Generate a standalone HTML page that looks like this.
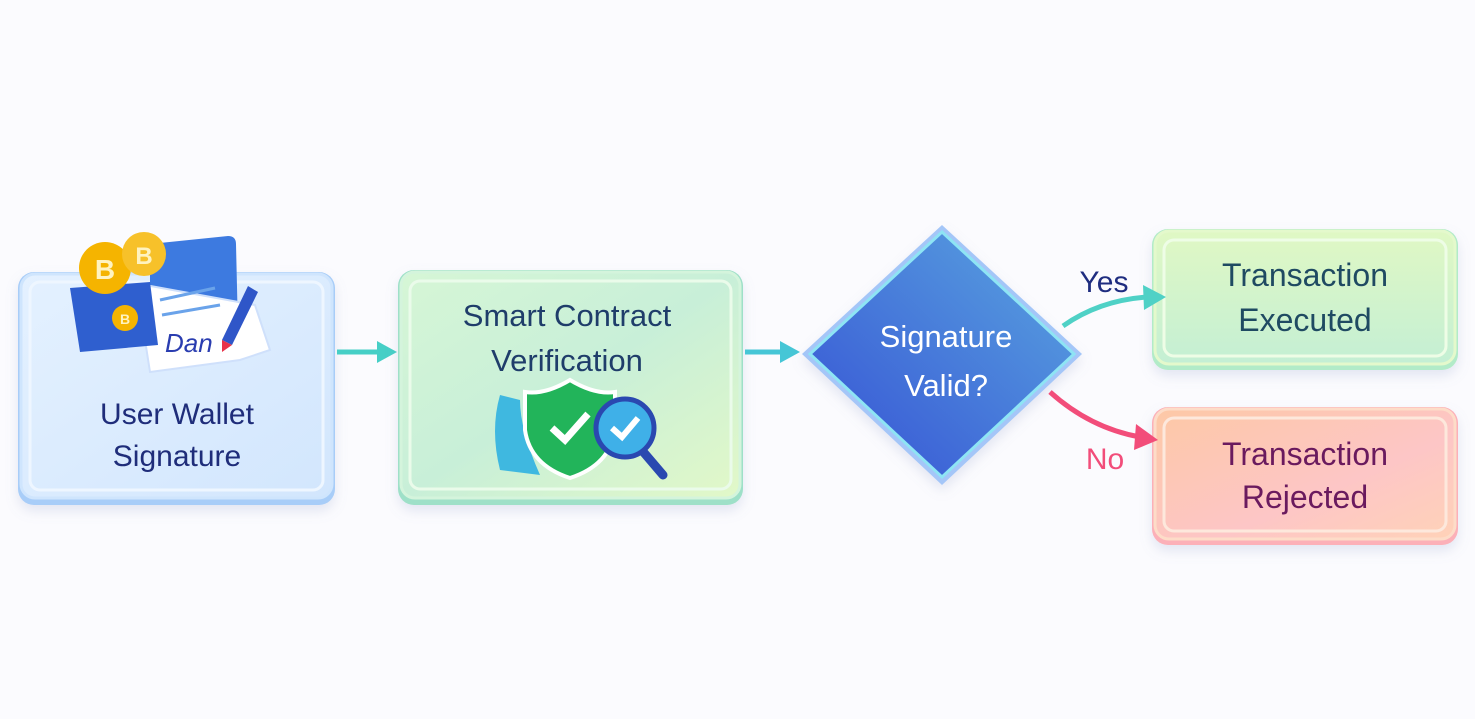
<!DOCTYPE html>
<html><head><meta charset="utf-8"><style>
html,body{margin:0;padding:0;background:#fbfbfe;}
svg{display:block}
text{font-family:"Liberation Sans","DejaVu Sans",sans-serif;}
</style></head><body>
<svg width="1475" height="719" viewBox="0 0 1475 719" xmlns="http://www.w3.org/2000/svg">
<defs>
<linearGradient id="g1" x1="0" y1="0" x2="1" y2="1"><stop offset="0" stop-color="#e4f1ff"/><stop offset="1" stop-color="#d2e6fd"/></linearGradient>
<linearGradient id="g2" x1="0" y1="0" x2="1" y2="1"><stop offset="0" stop-color="#d6f6d6"/><stop offset="0.5" stop-color="#c8efd8"/><stop offset="1" stop-color="#e2f8c8"/></linearGradient>
<linearGradient id="g3" x1="0" y1="0" x2="0" y2="1"><stop offset="0" stop-color="#e0f8c4"/><stop offset="1" stop-color="#c4efd4"/></linearGradient>
<linearGradient id="g4" x1="0" y1="0" x2="1" y2="1"><stop offset="0" stop-color="#fdc8a6"/><stop offset="0.6" stop-color="#fdc6c6"/><stop offset="1" stop-color="#ffd2b8"/></linearGradient>
<linearGradient id="gd" x1="1" y1="0" x2="0" y2="1"><stop offset="0" stop-color="#5aa6e0"/><stop offset="1" stop-color="#3550d4"/></linearGradient>
<filter id="sh" x="-10%" y="-10%" width="120%" height="130%"><feDropShadow dx="0" dy="6" stdDeviation="6" flood-color="#8090c0" flood-opacity="0.2"/></filter>
</defs>

<!-- Box1 -->
<rect x="18" y="272" width="317" height="233" rx="16" fill="#a8cdf8" filter="url(#sh)"/>
<rect x="21" y="274" width="311" height="224" rx="14" fill="url(#g1)" stroke="#cfe5fd" stroke-width="3"/>
<rect x="30" y="282" width="293" height="208" rx="10" fill="none" stroke="#eef6ff" stroke-width="3"/>
<path d="M150 244 L228 236 Q236 236 236 244 L238 330 L150 335 Z" fill="#3d7ae0"/>
<path d="M145 285 L255 305 L270 350 L240 360 L150 372 L145 340 Z" fill="#ffffff" stroke="#cfe0fb" stroke-width="2"/>
<line x1="160" y1="300" x2="215" y2="288" stroke="#6aa3ea" stroke-width="3"/>
<line x1="162" y1="315" x2="220" y2="305" stroke="#6aa3ea" stroke-width="3"/>
<text x="165" y="352" font-size="26" font-style="italic" fill="#2a3db0" font-family="Liberation Serif,serif">Dan</text>
<path d="M70 288 L150 282 L158 345 L80 352 Z" fill="#2f5fcf"/>
<circle cx="105" cy="268" r="26" fill="#f5b400"/><text x="105" y="279" font-size="28" fill="#fff3c0" text-anchor="middle" font-weight="bold">B</text>
<circle cx="144" cy="254" r="22" fill="#f7c12a"/><text x="144" y="264" font-size="24" fill="#fff3c0" text-anchor="middle" font-weight="bold">B</text>
<circle cx="125" cy="318" r="13" fill="#f5b400"/><text x="125" y="324" font-size="14" fill="#fff3c0" text-anchor="middle" font-weight="bold">B</text>
<path d="M248 286 L258 292 L232 345 L222 340 Z" fill="#2f56c8"/>
<path d="M222 340 L232 345 L222 352 Z" fill="#e8324a"/>
<text x="177" y="424" font-size="30" fill="#1f2d7a" text-anchor="middle">User Wallet</text>
<text x="177" y="466" font-size="30" fill="#1f2d7a" text-anchor="middle">Signature</text>

<!-- Arrow1 -->
<line x1="337" y1="352" x2="380" y2="352" stroke="#46cfc6" stroke-width="5"/>
<path d="M377 341 L397 352 L377 363 Z" fill="#46cfc6"/>

<!-- Box2 -->
<rect x="398" y="270" width="345" height="235" rx="16" fill="#9ee0c8" filter="url(#sh)"/>
<rect x="401" y="272" width="339" height="226" rx="14" fill="url(#g2)" stroke="#d4f4dc" stroke-width="3"/>
<rect x="410" y="281" width="321" height="208" rx="10" fill="none" stroke="#eafbea" stroke-width="3"/>
<text x="567" y="326" font-size="31" fill="#1f3d6a" text-anchor="middle">Smart Contract</text>
<text x="567" y="371" font-size="31" fill="#1f3d6a" text-anchor="middle">Verification</text>
<path d="M500 395 Q490 430 500 470 L540 475 Q520 430 520 400 Z" fill="#3fb8e0"/>
<path d="M570 380 Q595 395 615 392 L615 430 Q610 465 570 478 Q530 465 525 430 L525 392 Q545 395 570 380 Z" fill="#22b45a" stroke="#fff" stroke-width="4"/>
<path d="M552 428 L565 440 L588 414" fill="none" stroke="#fff" stroke-width="7"/>
<line x1="640" y1="448" x2="663" y2="475" stroke="#2a48b0" stroke-width="9" stroke-linecap="round"/>
<circle cx="625" cy="428" r="29" fill="#3fb0e8" stroke="#2a48b0" stroke-width="5"/>
<path d="M612 428 L622 437 L638 418" fill="none" stroke="#fff" stroke-width="6"/>

<!-- Arrow2 -->
<line x1="745" y1="352" x2="784" y2="352" stroke="#46c6d6" stroke-width="5"/>
<path d="M780 341 L800 352 L780 363 Z" fill="#46c6d6"/>

<!-- Diamond -->
<path d="M942 225 L1082 354 L942 485 L802 354 Z" fill="#a4c6f8" filter="url(#sh)"/>
<path d="M942 232 L1074 354 L942 477 L810 354 Z" fill="url(#gd)" stroke="#8ee4f4" stroke-width="3"/>
<text x="946" y="347" font-size="31" fill="#fff" text-anchor="middle">Signature</text>
<text x="946" y="396" font-size="31" fill="#fff" text-anchor="middle">Valid?</text>

<!-- Box3 -->
<rect x="1152" y="229" width="306" height="141" rx="16" fill="#b2ebc8" filter="url(#sh)"/>
<rect x="1155" y="231" width="300" height="133" rx="14" fill="url(#g3)" stroke="#e4f9cc" stroke-width="3"/>
<rect x="1164" y="240" width="282" height="116" rx="10" fill="none" stroke="#eefde6" stroke-width="3"/>
<text x="1305" y="286" font-size="32" fill="#1f4a62" text-anchor="middle">Transaction</text>
<text x="1305" y="331" font-size="32" fill="#1f4a62" text-anchor="middle">Executed</text>

<!-- Box4 -->
<rect x="1152" y="407" width="306" height="138" rx="16" fill="#fcb0b8" filter="url(#sh)"/>
<rect x="1155" y="409" width="300" height="130" rx="14" fill="url(#g4)" stroke="#fddcc8" stroke-width="3"/>
<rect x="1164" y="418" width="282" height="113" rx="10" fill="none" stroke="#fde8dc" stroke-width="3"/>
<text x="1305" y="465" font-size="32" fill="#6a1a5e" text-anchor="middle">Transaction</text>
<text x="1305" y="508" font-size="32" fill="#6a1a5e" text-anchor="middle">Rejected</text>

<!-- Yes / No (on top) -->
<path d="M1063 326 Q1100 300 1148 297" fill="none" stroke="#4fd1c6" stroke-width="5"/>
<path d="M1143 285 L1166 297 L1144 310 Z" fill="#4fd1c6"/>
<text x="1104" y="292" font-size="30" fill="#1f2d80" text-anchor="middle">Yes</text>
<path d="M1050 392 Q1090 428 1140 437" fill="none" stroke="#f24d7a" stroke-width="5"/>
<path d="M1136 424 L1158 440 L1134 450 Z" fill="#f24d7a"/>
<text x="1105" y="469" font-size="30" fill="#f24d7a" text-anchor="middle">No</text>
</svg>
</body></html>
